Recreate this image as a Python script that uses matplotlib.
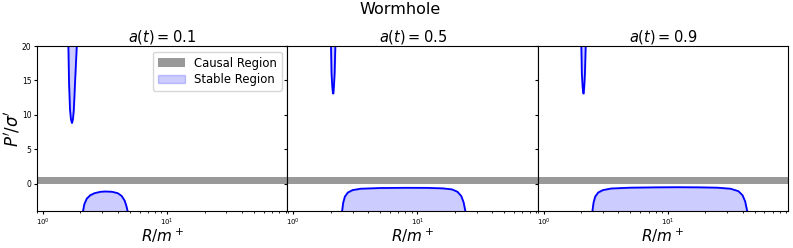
import numpy as np
import matplotlib
matplotlib.use('Agg')
import matplotlib.pyplot as plt

# a(t) values for each panel
a_vals = [0.1, 0.5, 0.9]

# upper stable region (narrow spike)
spike_R = [
    [1.60, 1.62, 1.65, 1.68, 1.71, 1.74, 1.77, 1.81, 1.87],
    [2.01, 2.03, 2.06, 2.085, 2.10, 2.12, 2.15, 2.18],
    [2.01, 2.03, 2.06, 2.085, 2.10, 2.12, 2.15, 2.18],
]
spike_P = [
    [20.0, 14.6, 10.7, 9.3, 8.8, 9.3, 10.7, 14.6, 20.0],
    [20.0, 16.0, 14.0, 13.1, 13.1, 14.0, 16.0, 20.0],
    [20.0, 16.0, 14.0, 13.1, 13.1, 14.0, 16.0, 20.0],
]

# lower stable region (bump)
bump_R = [
    [2.10, 2.15, 2.25, 2.4, 2.6, 2.9, 3.2, 3.6, 4.0, 4.3, 4.55, 4.7, 4.8],
    [2.47, 2.52, 2.6, 2.75, 3.0, 3.5, 5.0, 8.0, 12.0, 16.0, 19.0, 21.0, 22.5, 23.5, 24.3],
    [2.47, 2.52, 2.6, 2.75, 3.0, 3.5, 5.0, 8.0, 12.0, 18.0, 25.0, 32.0, 37.0, 40.0, 42.0, 43.6],
]
bump_P = [
    [-4.0, -3.0, -2.2, -1.7, -1.4, -1.2, -1.15, -1.2, -1.4, -1.8, -2.5, -3.3, -4.0],
    [-4.0, -2.8, -1.9, -1.3, -0.95, -0.75, -0.65, -0.62, -0.63, -0.7, -0.85, -1.2, -1.8, -2.7, -4.0],
    [-4.0, -2.8, -1.9, -1.3, -0.95, -0.72, -0.6, -0.55, -0.53, -0.55, -0.6, -0.75, -1.1, -1.7, -2.6, -4.0],
]

causal_lo, causal_hi = 0.0, 1.0

fig, axes = plt.subplots(1, 3, figsize=(7.93, 2.48), dpi=100, sharey=True)
fig.subplots_adjust(left=0.0467, right=0.9937, top=0.8145, bottom=0.149, wspace=0)

for i, ax in enumerate(axes):
    ax.axhspan(causal_lo, causal_hi, color='gray', alpha=0.8, lw=0, label='Causal Region')
    ax.fill_between(spike_R[i], spike_P[i], 25, color='blue', alpha=0.2, label='Stable Region')
    ax.plot(spike_R[i], spike_P[i], color='blue', lw=1.3)
    ax.fill_between(bump_R[i], bump_P[i], -5, color='blue', alpha=0.2)
    ax.plot(bump_R[i], bump_P[i], color='blue', lw=1.3)
    ax.set_xscale('log')
    ax.set_xlim(0.895, 93)
    ax.set_ylim(-4, 20)
    ax.set_title('$a(t) = %.1f$' % a_vals[i], fontsize=10.5, pad=2)
    ax.set_xlabel('$R/m^+$', fontsize=11, labelpad=-1)
    ax.tick_params(axis='x', labelsize=5, length=2.5, pad=1.5)
    ax.tick_params(axis='y', labelsize=5.5, length=2.5, pad=1.5)
    ax.tick_params(which='minor', length=1.5)

axes[0].set_ylabel("$P'/\\sigma'$", fontsize=12, labelpad=0)
axes[0].set_yticks([0, 5, 10, 15, 20])
axes[0].legend(loc='upper right', fontsize=8.4, handlelength=2.3, labelspacing=0.3)
fig.suptitle('Wormhole', fontsize=11.5, y=0.99, x=0.505)

plt.savefig('out.png', dpi=100)
